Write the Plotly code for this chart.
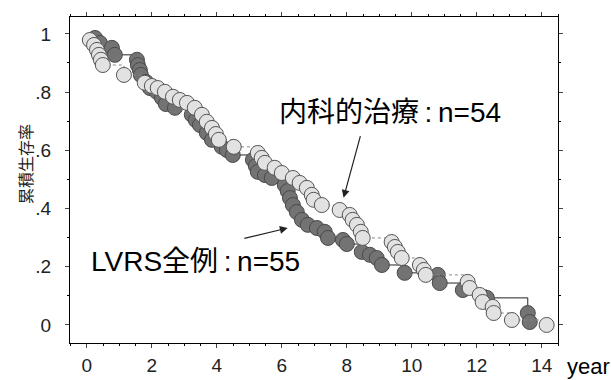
import plotly.graph_objects as go

# LVRS (all cases, n=55) - Kaplan-Meier points (years, cumulative survival)
lvrs_t = [0.25, 0.40, 0.77, 0.86, 1.54, 1.57, 1.63, 1.66, 1.82, 1.94, 2.15, 2.31, 2.43, 2.71,
          3.23, 3.35, 3.48, 3.69, 3.85, 4.15, 4.31, 4.49, 5.11, 5.20, 5.26, 5.48, 5.69,
          6.09, 6.18, 6.25, 6.34, 6.46, 6.62, 6.80, 7.08, 7.32, 7.42, 7.88, 8.00, 8.46,
          8.71, 8.92, 9.08, 9.78, 10.80, 10.86, 11.57, 12.31, 13.57, 13.63]
lvrs_s = [0.986, 0.969, 0.952, 0.928, 0.911, 0.893, 0.876, 0.859, 0.835, 0.814, 0.801, 0.780,
          0.759, 0.746, 0.722, 0.704, 0.687, 0.660, 0.636, 0.612, 0.601, 0.584, 0.567, 0.546,
          0.526, 0.515, 0.505, 0.481, 0.460, 0.436, 0.412, 0.388, 0.361, 0.344, 0.333, 0.320,
          0.299, 0.292, 0.278, 0.251, 0.241, 0.230, 0.206, 0.179, 0.172, 0.144, 0.120, 0.093,
          0.041, 0.010]

# Medical treatment (n=54)
med_t = [0.09, 0.22, 0.31, 0.37, 0.43, 0.49, 1.14, 1.78, 2.00, 2.18, 2.40, 2.65, 2.86, 3.08,
         3.32, 3.54, 3.69, 3.85, 3.97, 4.06, 4.52, 5.26, 5.38, 5.48, 5.78, 6.00, 6.34, 6.55,
         6.77, 6.92, 6.98, 7.23, 7.78, 8.09, 8.18, 8.31, 8.43, 8.49, 9.38, 9.48, 9.57, 9.69,
         10.25, 10.37, 10.43, 11.72, 11.78, 12.09, 12.18, 12.49, 12.52, 13.08, 14.15]
med_s = [0.979, 0.962, 0.945, 0.928, 0.911, 0.893, 0.859, 0.832, 0.821, 0.814, 0.801, 0.784,
         0.773, 0.763, 0.746, 0.722, 0.698, 0.677, 0.656, 0.636, 0.612, 0.591, 0.574, 0.557,
         0.540, 0.522, 0.505, 0.488, 0.471, 0.447, 0.430, 0.412, 0.395, 0.378, 0.361, 0.344,
         0.320, 0.299, 0.285, 0.268, 0.251, 0.230, 0.206, 0.189, 0.172, 0.148, 0.127, 0.103,
         0.079, 0.062, 0.041, 0.017, 0.000]

x_ticks = [0, 2, 4, 6, 8, 10, 12, 14]
y_ticks = [0, 0.2, 0.4, 0.6, 0.8, 1.0]
y_tick_text = ["0", ".2", ".4", ".6", ".8", "1"]

fig = go.Figure()
fig.add_trace(go.Scatter(
    x=lvrs_t, y=lvrs_s, mode="lines+markers", line_shape="hv",
    line=dict(color="#222222", width=1),
    marker=dict(size=15, color="#737373", line=dict(color="#4a4a4a", width=1)),
    showlegend=False))
fig.add_trace(go.Scatter(
    x=med_t, y=med_s, mode="lines+markers", line_shape="hv",
    line=dict(color="#888888", width=1, dash="dot"),
    marker=dict(size=15, color="#e2e2e2", line=dict(color="#555555", width=1)),
    showlegend=False))

tickfont = dict(family="Liberation Sans Narrow, Arial Narrow, sans-serif", size=19, color="#222")
fig.update_xaxes(range=[-0.52, 14.5], tickvals=x_ticks, ticks="outside", ticklen=4,
                 ticklabelstandoff=1, automargin=False,
                 showline=True, linecolor="black", linewidth=1, mirror="ticks",
                 showgrid=False, zeroline=False, tickfont=tickfont,
                 minor=dict(dtick=0.5, ticks="outside", ticklen=2, tickcolor="black"))
fig.update_yaxes(range=[-0.062, 1.058], tickvals=y_ticks, ticktext=y_tick_text,
                 ticks="outside", ticklen=4, ticklabelstandoff=10, automargin=False,
                 showline=True, linecolor="black", linewidth=1, mirror="ticks",
                 showgrid=False, zeroline=False, tickfont=tickfont,
                 minor=dict(dtick=0.1, ticks="outside", ticklen=2, tickcolor="black"))

W, H = 611, 380
ml, mr, mt, mb = 70, 53, 17, 37
pw, ph = W - ml - mr, H - mt - mb

def px(x):
    return (x - ml) / pw

def py(y):
    return 1 - (y - mt) / ph

lab = "Liberation Sans, Arial, Noto Sans CJK JP"
fig.add_annotation(text="内科的治療\u2009:\u2009n=54", xref="paper", yref="paper",
                   x=px(390), y=py(112), xanchor="center", yanchor="middle", showarrow=False,
                   font=dict(family=lab, size=28, color="black"))
fig.add_annotation(text="LVRS全例\u2009:\u2009n=55", xref="paper", yref="paper",
                   x=px(195), y=py(261), xanchor="center", yanchor="middle", showarrow=False,
                   font=dict(family=lab, size=28, color="black"))
fig.add_annotation(text="累積生存率", textangle=-90, xref="paper", yref="paper",
                   x=px(25), y=py(164), xanchor="center", yanchor="middle", showarrow=False,
                   font=dict(family="Noto Sans CJK JP", size=16, color="#222"))
fig.add_annotation(text="year", xref="paper", yref="paper",
                   x=px(588), y=py(366), xanchor="center", yanchor="middle", showarrow=False,
                   font=dict(family="Liberation Sans, Arial, sans-serif", size=22, color="black"))

# arrows
fig.add_annotation(x=7.9, y=0.437, ax=8.43, ay=0.654, xref="x", yref="y", axref="x", ayref="y",
                   text="", showarrow=True, arrowhead=2, arrowsize=1.3, arrowwidth=1.2,
                   arrowcolor="#222")
fig.add_annotation(x=6.18, y=0.333, ax=4.80, ay=0.296, xref="x", yref="y", axref="x", ayref="y",
                   text="", showarrow=True, arrowhead=2, arrowsize=1.3, arrowwidth=1.2,
                   arrowcolor="#222")

fig.update_layout(width=W, height=H, margin=dict(l=ml, r=mr, t=mt, b=mb),
                  plot_bgcolor="white", paper_bgcolor="white")
fig.write_html("out.html")
